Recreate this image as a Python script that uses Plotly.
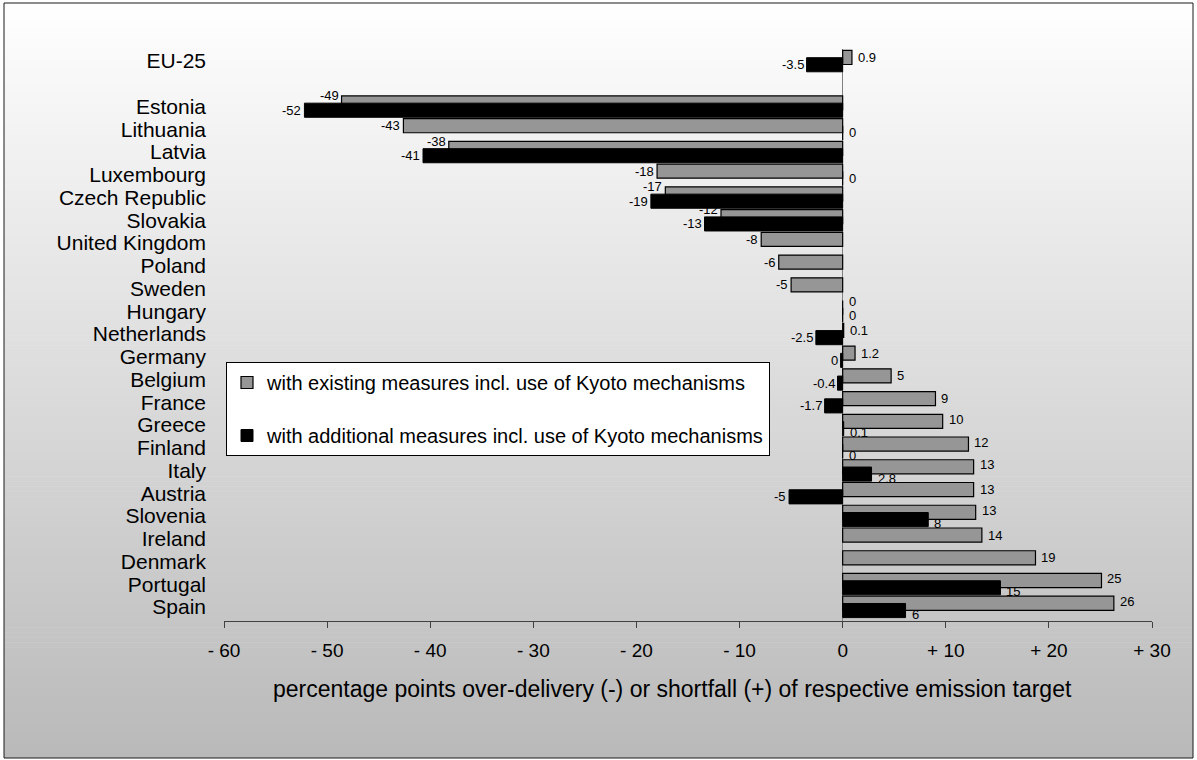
import plotly.graph_objects as go

# ---------------- data ----------------
categories = ["EU-25", " ", "Estonia", "Lithuania", "Latvia", "Luxembourg", "Czech Republic",
              "Slovakia", "United Kingdom", "Poland", "Sweden", "Hungary", "Netherlands",
              "Germany", "Belgium", "France", "Greece", "Finland", "Italy", "Austria",
              "Slovenia", "Ireland", "Denmark", "Portugal", "Spain"]

existing = [0.9, None, -48.6, -42.6, -38.2, -18.0, -17.2, -11.8, -7.9, -6.2, -5.0, 0.0, 0.1,
            1.2, 4.7, 9.0, 9.7, 12.2, 12.7, 12.7, 12.9, 13.5, 18.7, 25.1, 26.3]
existing_labels = ["0.9", "", "-49", "-43", "-38", "-18", "-17", "-12", "-8", "-6", "-5", "0", "0.1",
                   "1.2", "5", "9", "10", "12", "13", "13", "13", "14", "19", "25", "26"]

additional = [-3.5, None, -52.2, 0.0, -40.7, 0.0, -18.6, -13.4, None, None, None, 0.0, -2.6,
              -0.2, -0.5, -1.75, 0.1, 0.0, 2.8, -5.2, 8.3, None, None, 15.3, 6.1]
additional_labels = ["-3.5", "", "-52", "0", "-41", "0", "-19", "-13", "", "", "", "0", "-2.5",
                     "0", "-0.4", "-1.7", "0.1", "0", "2.8", "-5", "8", "", "", "15", "6"]

series_names = ["with existing measures incl. use of Kyoto mechanisms",
                "with additional measures incl. use of Kyoto mechanisms"]

x_tick_values = [-60, -50, -40, -30, -20, -10, 0, 10, 20, 30]
x_tick_labels = ["- 60", "- 50", "- 40", "- 30", "- 20", "- 10", "0", "+ 10", "+ 20", "+ 30"]

x_title = "percentage points over-delivery (-) or shortfall (+) of respective emission target"

# ---------------- geometry ----------------
W, H = 1197, 760
ML, MR, MT, MB = 224, 45, 49, 139
PW = W - ML - MR
PH = H - MT - MB


def px_to_paper_x(px):
    return (px - ML) / PW


def px_to_paper_y(py):
    return (H - MB - py) / PH


fig = go.Figure()

fig.add_trace(go.Bar(
    y=categories, x=existing, orientation="h", name=series_names[0],
    marker=dict(color="#969696", line=dict(color="#000000", width=1.2)),
    width=0.62, offset=-0.47, legendgroup="g1", hoverinfo="skip",
))
fig.add_trace(go.Bar(
    y=categories, x=additional, orientation="h", name=series_names[1],
    marker=dict(color="#000000", line=dict(color="#000000", width=1)),
    width=0.62, offset=-0.15, legendgroup="g2", hoverinfo="skip",
))

# ---------------- value labels ----------------
def side(v):
    return 1 if v >= 0 else -1


annotations = []
label_font = dict(family="Arial, Liberation Sans, sans-serif", size=13, color="#000000")
for cat, ev, el, av, al in zip(categories, existing, existing_labels, additional, additional_labels):
    both = ev is not None and av is not None and el != "" and al != ""
    same_side = both and side(ev) == side(av)
    g_shift, b_shift = 3.6, -3.6
    if same_side and ev == 0 and av == 0:
        g_shift, b_shift = 10, -4     # two zero labels stacked above each other
    elif same_side and abs(av) > abs(ev):
        g_shift += 7                  # black bar reaches beyond the grey one: lift grey label
    elif same_side:
        g_shift += 2                  # black label sits under the grey one: spread them apart
        b_shift -= 4
    if ev is not None and el:
        annotations.append(dict(
            x=ev, y=cat, xref="x", yref="y", text=el, showarrow=False,
            xanchor="left" if ev >= 0 else "right", yanchor="middle", borderpad=0,
            xshift=5 if ev >= 0 else -2, yshift=g_shift, font=label_font,
        ))
    if av is not None and al:
        annotations.append(dict(
            x=av, y=cat, xref="x", yref="y", text=al, showarrow=False,
            xanchor="left" if av >= 0 else "right", yanchor="middle", borderpad=0,
            xshift=5 if av >= 0 else -2, yshift=b_shift, font=label_font,
        ))

# axis title as annotation (offset to match original centering)
annotations.append(dict(
    x=px_to_paper_x(672), y=px_to_paper_y(689), xref="paper", yref="paper",
    text=x_title, showarrow=False, xanchor="center", yanchor="middle",
    font=dict(family="Arial, Liberation Sans, sans-serif", size=23, color="#000000"),
))

# ---------------- background gradient + frame ----------------
shapes = []
top_px, bot_px = 3, 758
n = 150
step = (bot_px - top_px) / n
for i in range(n):
    y0 = top_px + i * step
    y1 = y0 + step + 0.6
    mid = (y0 + y1) / 2
    c = round(255 - 70 * (mid / H))
    shapes.append(dict(
        type="rect", xref="paper", yref="paper", layer="below",
        x0=px_to_paper_x(4), x1=px_to_paper_x(1193),
        y0=px_to_paper_y(min(y1, bot_px)), y1=px_to_paper_y(y0),
        fillcolor=f"rgb({c},{c},{c})", line=dict(width=0),
    ))
shapes.append(dict(
    type="rect", xref="paper", yref="paper", layer="below",
    x0=px_to_paper_x(4), x1=px_to_paper_x(1193),
    y0=px_to_paper_y(bot_px), y1=px_to_paper_y(top_px),
    fillcolor="rgba(0,0,0,0)", line=dict(color="#1a1a1a", width=1),
))

fig.update_layout(
    width=W, height=H,
    margin=dict(l=ML, r=MR, t=MT, b=MB),
    paper_bgcolor="#ffffff", plot_bgcolor="rgba(0,0,0,0)",
    barmode="overlay",
    font=dict(family="Arial, Liberation Sans, sans-serif", color="#000000"),
    showlegend=True,
    legend=dict(
        x=px_to_paper_x(226), y=px_to_paper_y(362), xanchor="left", yanchor="top",
        bgcolor="#ffffff", bordercolor="#000000", borderwidth=1,
        font=dict(size=20, family="Arial, Liberation Sans, sans-serif", color="#000000"),
        traceorder="grouped", tracegroupgap=24,
    ),
    xaxis=dict(
        range=[-60, 30], tickvals=x_tick_values, ticktext=x_tick_labels,
        showgrid=False, zeroline=True, zerolinecolor="#808080", zerolinewidth=1,
        showline=True, linecolor="#404040", linewidth=1,
        ticks="outside", ticklen=6, tickcolor="#404040", tickwidth=1,
        tickfont=dict(size=19), ticklabelstandoff=6,
        fixedrange=True,
    ),
    yaxis=dict(
        type="category", categoryorder="array", categoryarray=categories,
        tickmode="array", tickvals=categories, ticktext=categories,
        autorange="reversed", showgrid=False, zeroline=False, showline=False,
        ticks="", tickfont=dict(size=21), ticklabelstandoff=17,
        fixedrange=True,
    ),
    shapes=shapes,
    annotations=annotations,
)

fig.write_html("out.html")
